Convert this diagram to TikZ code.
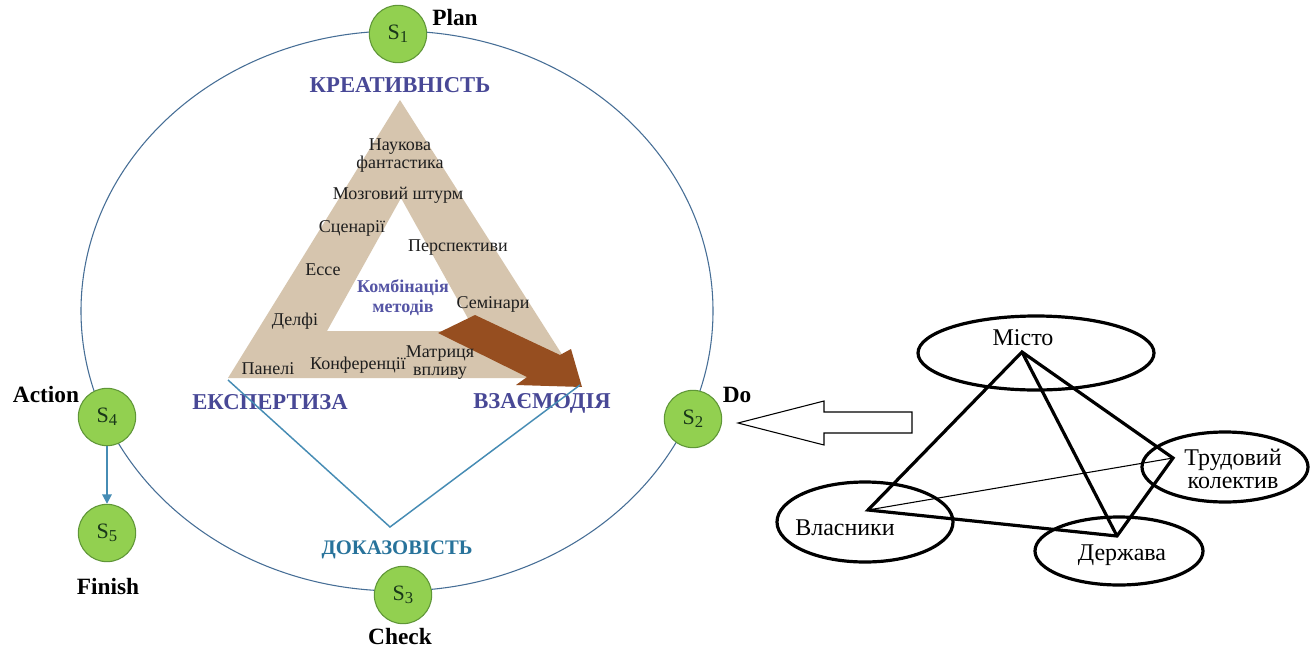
\documentclass[tikz,border=0pt]{standalone}
\usepackage{fontspec}
\setmainfont{Liberation Serif}
\usetikzlibrary{shapes.geometric,arrows.meta}
\definecolor{ringblue}{RGB}{70,110,150}
\definecolor{sgreen}{RGB}{146,208,80}
\definecolor{sgreenline}{RGB}{95,150,55}
\definecolor{tanfill}{RGB}{214,197,174}
\definecolor{headblue}{RGB}{72,72,150}
\definecolor{combblue}{RGB}{85,85,165}
\definecolor{tealblue}{RGB}{40,115,155}
\definecolor{vblue}{RGB}{70,140,180}
\definecolor{brownarrow}{RGB}{150,78,32}
\definecolor{bodytext}{RGB}{30,30,30}
\definecolor{stext}{RGB}{25,55,25}
\newcommand{\Sn}[1]{{\fontsize{16.5}{16.5}\selectfont S}\raisebox{-2.5pt}{\fontsize{12.5}{12.5}\selectfont #1}}
\begin{document}
\begin{tikzpicture}[x=0.75pt,y=-0.75pt,
  snode/.style={circle,draw=sgreenline,fill=sgreen,line width=0.8pt,minimum size=43pt,inner sep=0pt,text=stext},
  stagelabel/.style={font=\fontsize{17.5}{18}\selectfont\bfseries,inner sep=0pt},
  methodtxt/.style={font=\fontsize{13.5}{13.5}\selectfont,inner sep=0pt,align=center,text=bodytext},
  cornertxt/.style={font=\fontsize{17}{17}\selectfont\bfseries,text=headblue,inner sep=0pt},
  actor/.style={draw,line width=2.4pt,ellipse,inner sep=0pt},
  actortxt/.style={font=\fontsize{18}{17}\selectfont,inner sep=0pt,align=center},
  thickedge/.style={line width=2.4pt,line join=miter},
  thinedge/.style={line width=0.8pt}]
\useasboundingbox (0,0) rectangle (1310,657);
\fill[white] (0,0) rectangle (1310,657);

% big ring
\node[ellipse,draw=ringblue,line width=0.8pt,minimum width=474pt,minimum height=420pt,inner sep=0pt] (ring) at (397,311) {};

% tan triangle
\fill[tanfill,even odd rule] (400,100)--(228,378)--(577,378)--cycle (401,198)--(327,331)--(475,331)--cycle;

% brown arrow
\fill[brownarrow] (475,315)--(560,355)--(571,349)--(582,387)--(516,385)--(527,377)--(438,333)--cycle;

% method texts
\node[methodtxt] (t1) at (400,156) {Наукова\\фантастика};
\node[methodtxt] (t2) at (398,195) {Мозговий штурм};
\node[methodtxt] (t3) at (352,228) {Сценарії};
\node[methodtxt] (t4) at (458,248) {Перспективи};
\node[methodtxt] (t5) at (323,270) {Ессе};
\node[methodtxt] (t6) at (493,304) {Семінари};
\node[methodtxt] (t7) at (295,321) {Делфі};
\node[methodtxt] (t8) at (268,369) {Панелі};
\node[methodtxt] (t9) at (358,365) {Конференції};
\node[methodtxt] (t10) at (440,363) {Матриця\\впливу};
\node[font=\fontsize{13.5}{15}\selectfont\bfseries,text=combblue,align=center,inner sep=0pt] (comb) at (403,298) {Комбінація\\методів};

% corner labels
\node[cornertxt] (kreat) at (400,85) {КРЕАТИВНІСТЬ};
\node[cornertxt] (expert) at (270,402) {ЕКСПЕРТИЗА};
\node[cornertxt] (vzaem) at (542,403) {ВЗАЄМОДІЯ};
\node[cornertxt,text=tealblue,font=\fontsize{15.5}{16}\selectfont\bfseries] (dokaz) at (397,550) {ДОКАЗОВІСТЬ};

% blue V
\coordinate (vl) at (228,380);
\coordinate (vb) at (390,527);
\coordinate (vr) at (580,385);
\draw[vblue,line width=1.1pt] (vl)--(vb)--(vr);

% stage nodes
\node[snode] (s1) at (398,34) {\Sn{1}};
\node[snode] (s2) at (693,419) {\Sn{2}};
\node[snode] (s3) at (403,595) {\Sn{3}};
\node[snode] (s4) at (107,417) {\Sn{4}};
\node[snode] (s5) at (107,533) {\Sn{5}};
\draw[vblue,line width=1.3pt,-{Triangle[length=7pt,width=7pt]}] (s4)--(s5);

\node[stagelabel] (plan) at (455,18) {Plan};
\node[stagelabel] (do) at (737,395) {Do};
\node[stagelabel] (action) at (46,395) {Action};
\node[stagelabel] (finish) at (108,587) {Finish};
\node[stagelabel] (check) at (400,637) {Check};

% open arrow
\draw[line width=0.8pt,line join=miter] (738,423)--(824,401)--(824,412)--(912,412)--(912,433)--(824,433)--(824,445)--cycle;

% actors
\node[actor,minimum width=177pt,minimum height=55.5pt] (misto) at (1036,353) {};
\node[actor,minimum width=132pt,minimum height=60pt] (vlas) at (865,522) {};
\node[actor,minimum width=126pt,minimum height=51pt] (derzh) at (1119,551) {};
\node[actor,minimum width=124.5pt,minimum height=52.5pt] (trud) at (1225,467) {};
\node[actortxt] (mistot) at (1023,338) {Місто};
\node[actortxt] (vlast) at (845,528) {Власники};
\node[actortxt] (derzht) at (1122,555) {Держава};
\node[actortxt] (trudt) at (1233,469) {Трудовий\\колектив};

\coordinate (pa) at (1022,352);
\coordinate (pv) at (868,510);
\coordinate (pd) at (1117,536);
\coordinate (pt) at (1173,458);
\draw[thickedge] (pa)--(pv)--(pd)--(pt)--cycle;
\draw[thickedge] (pa)--(pd);
\draw[thinedge] (pv)--(pt);
\end{tikzpicture}
\end{document}
